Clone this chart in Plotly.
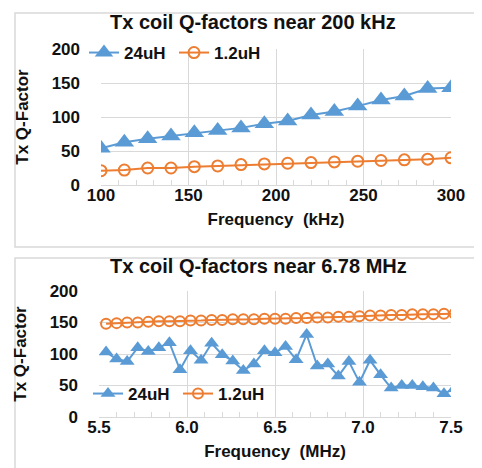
import plotly.graph_objects as go

# ---- data ----
khz_freq = [100 + i * 200 / 15 for i in range(16)]
khz_24uH = [54, 63, 68, 72, 77, 80, 84, 90, 94, 103, 108, 116, 125, 131, 142, 143]
khz_1p2uH = [21, 22, 25, 25, 27, 28, 30, 31, 32, 33, 34, 35, 36, 37, 38, 40]

mhz_freq = [round(5.54 + i * 0.06, 2) for i in range(34)]
mhz_24uH = [103, 92, 88, 110, 104, 110, 118, 75, 105, 90, 117, 99, 89, 74, 84, 105,
            102, 112, 91, 131, 81, 84, 65, 88, 55, 90, 67, 46, 50, 50, 48, 46, 37, 45]
mhz_1p2uH = [148, 149, 150, 150, 151, 152, 152, 152, 153, 153, 154, 154, 155, 155, 155, 156,
             156, 156, 157, 157, 158, 158, 159, 159, 160, 161, 161, 162, 162, 163, 163, 163, 164, 164]

titles = ["Tx coil Q-factors near 200 kHz", "Tx coil Q-factors near 6.78 MHz"]
xtitles = ["Frequency  (kHz)", "Frequency  (MHz)"]
ytitle = "Tx Q-Factor"
names = ["24uH", "1.2uH"]

BLUE = "#5B9BD5"
ORANGE = "#ED7D31"
GRID = "#D9D9D9"
FONT = "Liberation Sans, Arial, sans-serif"
W, H = 482, 468

def px_x(p):
    return p / W

def px_y(p):
    return 1 - p / H

fig = go.Figure()

# top chart
fig.add_trace(go.Scatter(x=khz_freq, y=khz_24uH, name=names[0], mode="lines+markers",
                         line=dict(color=BLUE, width=2),
                         marker=dict(symbol="triangle-up", size=17, color=BLUE),
                         xaxis="x", yaxis="y", legend="legend"))
fig.add_trace(go.Scatter(x=khz_freq, y=khz_1p2uH, name=names[1], mode="lines+markers",
                         line=dict(color=ORANGE, width=2),
                         marker=dict(symbol="circle-open", size=11, color=ORANGE, line=dict(width=2)),
                         xaxis="x", yaxis="y", legend="legend2"))
# bottom chart
fig.add_trace(go.Scatter(x=mhz_freq, y=mhz_24uH, name=names[0], mode="lines+markers",
                         line=dict(color=BLUE, width=2),
                         marker=dict(symbol="triangle-up", size=13, color=BLUE),
                         xaxis="x2", yaxis="y2", legend="legend3"))
fig.add_trace(go.Scatter(x=mhz_freq, y=mhz_1p2uH, name=names[1], mode="lines+markers",
                         line=dict(color=ORANGE, width=2),
                         marker=dict(symbol="circle-open", size=10, color=ORANGE, line=dict(width=2)),
                         xaxis="x2", yaxis="y2", legend="legend4"))

tickfont = dict(family=FONT, size=17, color="#111111", weight="bold")
titlefont = dict(family=FONT, size=17, color="#111111", weight="bold")

def xaxis(dom, rng, dtick, minor_dt, title, anchor, fmt):
    return dict(domain=dom, range=rng, dtick=dtick, tick0=rng[0], showgrid=True, gridcolor=GRID,
                gridwidth=1, showline=True, linecolor=GRID, linewidth=1, zeroline=False,
                ticks="", tickfont=tickfont, ticklabelstandoff=-5, tickformat=fmt,
                minor=dict(dtick=minor_dt, tick0=rng[0], ticks="inside", ticklen=5, tickcolor=GRID, showgrid=False),
                title=dict(text=title, font=titlefont, standoff=8), anchor=anchor, automargin=False,
                fixedrange=True)

def yaxis(dom, anchor):
    return dict(domain=dom, range=[0, 200], dtick=50, showgrid=True, gridcolor=GRID, gridwidth=1,
                showline=False, zeroline=False, ticks="", tickfont=tickfont, ticklabelstandoff=20,
                title=dict(text=ytitle, font=titlefont, standoff=18), anchor=anchor, automargin=False,
                fixedrange=True)

legend_common = dict(orientation="h", xanchor="left", yanchor="middle", bgcolor="rgba(0,0,0,0)",
                     font=dict(family=FONT, size=17, color="#111111", weight="bold"),
                     itemwidth=30, tracegroupgap=0)

fig.update_layout(
    width=W, height=H, margin=dict(l=0, r=0, t=0, b=0),
    paper_bgcolor="white", plot_bgcolor="white", showlegend=True,
    xaxis=xaxis([px_x(93), px_x(443)], [100, 300], 50, 10, xtitles[0], "y", "d"),
    yaxis=yaxis([px_y(177), px_y(41)], "x"),
    xaxis2=xaxis([px_x(91), px_x(443)], [5.5, 7.5], 0.5, 0.1, xtitles[1], "y2", ".1f"),
    yaxis2=yaxis([px_y(409), px_y(283)], "x2"),
    legend=dict(x=px_x(76), y=px_y(45), **legend_common),
    legend2=dict(x=px_x(166), y=px_y(45), **legend_common),
    legend3=dict(x=px_x(80), y=px_y(386), **legend_common),
    legend4=dict(x=px_x(170), y=px_y(386), **legend_common),
    annotations=[
        dict(text=titles[0], x=px_x(245), y=px_y(14), xref="paper", yref="paper", showarrow=False,
             xanchor="center", yanchor="middle", font=dict(family=FONT, size=20, color="#111111", weight="bold")),
        dict(text=titles[1], x=px_x(250), y=px_y(258), xref="paper", yref="paper", showarrow=False,
             xanchor="center", yanchor="middle", font=dict(family=FONT, size=20, color="#111111", weight="bold")),
    ],
    shapes=[
        dict(type="rect", xref="paper", yref="paper", x0=px_x(7), x1=px_x(480), y0=px_y(239), y1=px_y(5),
             line=dict(color=GRID, width=1.5), fillcolor="rgba(0,0,0,0)", layer="below"),
        dict(type="rect", xref="paper", yref="paper", x0=px_x(7), x1=px_x(480), y0=px_y(475), y1=px_y(250),
             line=dict(color=GRID, width=1.5), fillcolor="rgba(0,0,0,0)", layer="below"),
    ],
)

fig.write_html("out.html")
